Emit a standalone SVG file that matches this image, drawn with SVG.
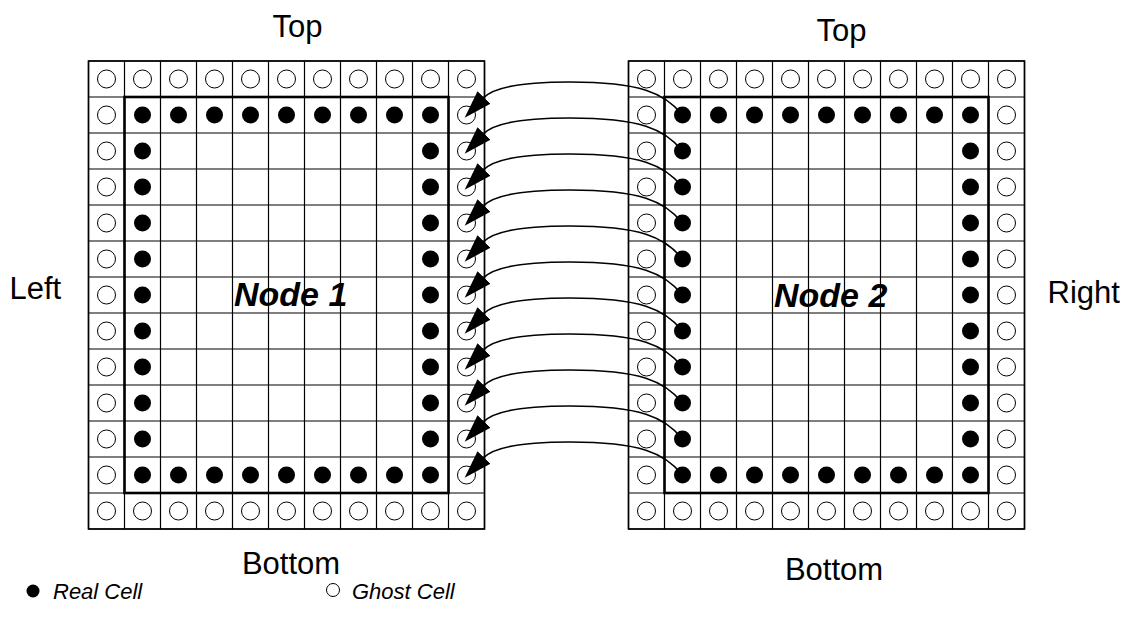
<svg xmlns="http://www.w3.org/2000/svg" xmlns:xlink="http://www.w3.org/1999/xlink" width="1133" height="634" viewBox="0 0 1133 634">
<style>
.lbl{font-family:"Liberation Sans",Arial,sans-serif;font-size:31px;fill:#000}
.nl{font-family:"Liberation Sans",Arial,sans-serif;font-size:34px;font-weight:bold;font-style:italic;fill:#000}
.lg{font-family:"Liberation Sans",Arial,sans-serif;font-size:22px;font-style:italic;fill:#000}
.grid{fill:none;stroke:#000;stroke-width:1.2}
.outer{fill:none;stroke:#000;stroke-width:1.6}
.inner{fill:none;stroke:#000;stroke-width:2.6}
.ghost{fill:#fff;stroke:#000;stroke-width:1}
.real{fill:#000}
.conn{fill:none;stroke:#000;stroke-width:1.6}
</style>
<defs>
<path id="gridlines" d="M0 0V468M36 0V468M72 0V468M108 0V468M144 0V468M180 0V468M216 0V468M252 0V468M288 0V468M324 0V468M360 0V468M396 0V468M0 0H396M0 36H396M0 72H396M0 108H396M0 144H396M0 180H396M0 216H396M0 252H396M0 288H396M0 324H396M0 360H396M0 396H396M0 432H396M0 468H396"/>
<g id="ghostRow"><circle class="ghost" cx="0" cy="0" r="9"/><circle class="ghost" cx="36" cy="0" r="9"/><circle class="ghost" cx="72" cy="0" r="9"/><circle class="ghost" cx="108" cy="0" r="9"/><circle class="ghost" cx="144" cy="0" r="9"/><circle class="ghost" cx="180" cy="0" r="9"/><circle class="ghost" cx="216" cy="0" r="9"/><circle class="ghost" cx="252" cy="0" r="9"/><circle class="ghost" cx="288" cy="0" r="9"/><circle class="ghost" cx="324" cy="0" r="9"/><circle class="ghost" cx="360" cy="0" r="9"/></g>
<g id="ghostCol"><circle class="ghost" cx="0" cy="0" r="9"/><circle class="ghost" cx="0" cy="36" r="9"/><circle class="ghost" cx="0" cy="72" r="9"/><circle class="ghost" cx="0" cy="108" r="9"/><circle class="ghost" cx="0" cy="144" r="9"/><circle class="ghost" cx="0" cy="180" r="9"/><circle class="ghost" cx="0" cy="216" r="9"/><circle class="ghost" cx="0" cy="252" r="9"/><circle class="ghost" cx="0" cy="288" r="9"/><circle class="ghost" cx="0" cy="324" r="9"/><circle class="ghost" cx="0" cy="360" r="9"/></g>
<g id="realRow"><circle class="real" cx="0" cy="0" r="8.5"/><circle class="real" cx="36" cy="0" r="8.5"/><circle class="real" cx="72" cy="0" r="8.5"/><circle class="real" cx="108" cy="0" r="8.5"/><circle class="real" cx="144" cy="0" r="8.5"/><circle class="real" cx="180" cy="0" r="8.5"/><circle class="real" cx="216" cy="0" r="8.5"/><circle class="real" cx="252" cy="0" r="8.5"/><circle class="real" cx="288" cy="0" r="8.5"/></g>
<g id="realCol"><circle class="real" cx="0" cy="0" r="8.5"/><circle class="real" cx="0" cy="36" r="8.5"/><circle class="real" cx="0" cy="72" r="8.5"/><circle class="real" cx="0" cy="108" r="8.5"/><circle class="real" cx="0" cy="144" r="8.5"/><circle class="real" cx="0" cy="180" r="8.5"/><circle class="real" cx="0" cy="216" r="8.5"/><circle class="real" cx="0" cy="252" r="8.5"/><circle class="real" cx="0" cy="288" r="8.5"/></g>
<marker id="ah" markerUnits="userSpaceOnUse" markerWidth="28" markerHeight="18" viewBox="0 0 28 18" refX="0" refY="9" orient="auto"><path d="M0 0L28 9L0 18z" fill="#000"/></marker>
</defs>
<rect width="1133" height="634" fill="#fff"/>

<g id="node1">
<g transform="translate(88.5,61)">
<use xlink:href="#gridlines" class="grid"/>
<rect class="outer" x="0" y="0" width="396" height="468"/>
<rect class="inner" x="36" y="36" width="324" height="396"/>
</g>
<use xlink:href="#ghostRow" x="106.5" y="79"/>
<use xlink:href="#ghostRow" x="106.5" y="511"/>
<use xlink:href="#ghostCol" x="106.5" y="115"/>
<use xlink:href="#ghostCol" x="466.5" y="115"/>
<use xlink:href="#realRow" x="142.5" y="115"/>
<use xlink:href="#realRow" x="142.5" y="475"/>
<use xlink:href="#realCol" x="142.5" y="151"/>
<use xlink:href="#realCol" x="430.5" y="151"/>
<text class="nl" x="234" y="306">Node 1</text>
</g>

<g id="node2">
<g transform="translate(628.5,61)">
<use xlink:href="#gridlines" class="grid"/>
<rect class="outer" x="0" y="0" width="396" height="468"/>
<rect class="inner" x="36" y="36" width="324" height="396"/>
</g>
<use xlink:href="#ghostRow" x="646.5" y="79"/>
<use xlink:href="#ghostRow" x="646.5" y="511"/>
<use xlink:href="#ghostCol" x="646.5" y="115"/>
<use xlink:href="#ghostCol" x="1006.5" y="115"/>
<use xlink:href="#realRow" x="682.5" y="115"/>
<use xlink:href="#realRow" x="682.5" y="475"/>
<use xlink:href="#realCol" x="682.5" y="151"/>
<use xlink:href="#realCol" x="970.5" y="151"/>
<text class="nl" x="774" y="307">Node 2</text>
</g>

<g id="connectors">
<path class="conn" marker-end="url(#ah)" d="M682.5 115C665 93 640 82 570 82C525 82 495 86 484 97.5"/>
<path class="conn" marker-end="url(#ah)" d="M682.5 151C665 129 640 118 570 118C525 118 495 122 484 133.5"/>
<path class="conn" marker-end="url(#ah)" d="M682.5 187C665 165 640 154 570 154C525 154 495 158 484 169.5"/>
<path class="conn" marker-end="url(#ah)" d="M682.5 223C665 201 640 190 570 190C525 190 495 194 484 205.5"/>
<path class="conn" marker-end="url(#ah)" d="M682.5 259C665 237 640 226 570 226C525 226 495 230 484 241.5"/>
<path class="conn" marker-end="url(#ah)" d="M682.5 295C665 273 640 262 570 262C525 262 495 266 484 277.5"/>
<path class="conn" marker-end="url(#ah)" d="M682.5 331C665 309 640 298 570 298C525 298 495 302 484 313.5"/>
<path class="conn" marker-end="url(#ah)" d="M682.5 367C665 345 640 334 570 334C525 334 495 338 484 349.5"/>
<path class="conn" marker-end="url(#ah)" d="M682.5 403C665 381 640 370 570 370C525 370 495 374 484 385.5"/>
<path class="conn" marker-end="url(#ah)" d="M682.5 439C665 417 640 406 570 406C525 406 495 410 484 421.5"/>
<path class="conn" marker-end="url(#ah)" d="M682.5 475C665 453 640 442 570 442C525 442 495 446 484 457.5"/>
</g>

<g id="labels">
<text class="lbl" x="297.5" y="37" text-anchor="middle">Top</text>
<text class="lbl" x="841.5" y="41" text-anchor="middle">Top</text>
<text class="lbl" x="291" y="574" text-anchor="middle">Bottom</text>
<text class="lbl" x="834" y="580" text-anchor="middle">Bottom</text>
<text class="lbl" x="9.5" y="299">Left</text>
<text class="lbl" x="1047.5" y="302.5">Right</text>
</g>

<g id="legend">
<circle cx="33" cy="591" r="6.5" fill="#000"/>
<text class="lg" x="53" y="599">Real Cell</text>
<circle cx="333" cy="590" r="6.5" fill="#fff" stroke="#000" stroke-width="1"/>
<text class="lg" x="352" y="599">Ghost Cell</text>
</g>
</svg>
